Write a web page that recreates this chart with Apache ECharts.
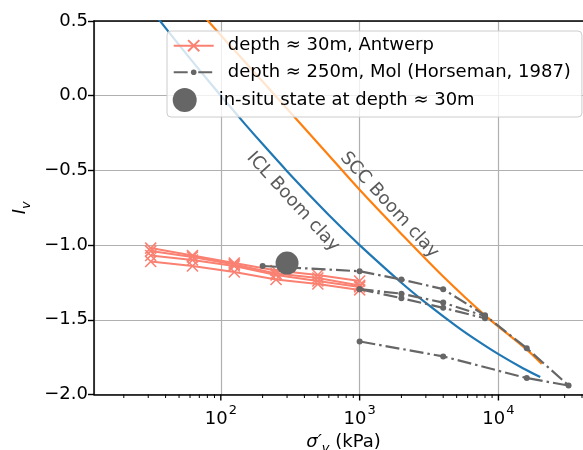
<!DOCTYPE html>
<html><head><meta charset="utf-8">
<script src="https://cdn.jsdelivr.net/npm/echarts@6/dist/echarts.min.js"></script>
<style>html,body{margin:0;padding:0;background:#fff}#c{width:583px;height:450px}</style>
</head><body><div id="c"></div>
<script>
// ---------- data ----------
const antwerpStress = [31.25, 62.5, 125, 250, 500, 1000];
const antwerpIv1 = [-1.02, -1.07, -1.12, -1.17, -1.20, -1.24];
const antwerpIv2 = [-1.04, -1.08, -1.13, -1.19, -1.22, -1.27];
const antwerpIv3 = [-1.07, -1.10, -1.14, -1.20, -1.24, -1.28];
const antwerpIv4 = [-1.11, -1.14, -1.18, -1.23, -1.26, -1.30];

const molStress1 = [200, 1000, 2000, 4000, 8000, 16000, 32000, 16000, 4000, 1000];
const molIv1 = [-1.14, -1.175, -1.23, -1.295, -1.47, -1.69, -1.94, -1.89, -1.745, -1.645];
const molStress2 = [1000, 2000, 4000, 8000];
const molIv2 = [-1.295, -1.325, -1.385, -1.475];
const molStress3 = [1000, 2000, 4000, 8000];
const molIv3 = [-1.295, -1.355, -1.42, -1.49];

const inSituStress = [300];
const inSituIv = [-1.12];

const iclStress = [30, 50, 70, 100, 150, 200, 300, 500, 700, 1000, 2000, 3000, 5000, 7000, 10000, 15000, 20000];
const iclIv = [0.60, 0.34, 0.173, 0.0, -0.192, -0.324, -0.505, -0.723, -0.861, -1.0, -1.252, -1.387, -1.544, -1.638, -1.73, -1.824, -1.883];
const sccStress = [60, 100, 200, 550, 1000, 2000, 4000, 8000, 16000, 20500];
const sccIv = [0.634, 0.405, 0.095, -0.36, -0.63, -0.925, -1.21, -1.47, -1.70, -1.795];

const iclLabelAt = [331, -0.711];
const sccLabelAt = [1633, -0.732];

const xMajorTicks = [100, 1000, 10000];
const xMinorTicks = [20, 30, 40, 50, 60, 70, 80, 90, 200, 300, 400, 500, 600, 700, 800, 900,
  2000, 3000, 4000, 5000, 6000, 7000, 8000, 9000, 20000, 30000, 40000];

const xMin = 12.2, xMax = 48000, yMin = -2.0, yMax = 0.5, yStep = 0.5;

const nameAntwerp = 'depth ≈ 30m, Antwerp';
const nameMol = 'depth ≈ 250m, Mol (Horseman, 1987)';
const nameInSitu = 'in-situ state at depth ≈ 30m';
// ---------------------------------------------------

const FONT = 'DejaVu Sans';
const SALMON = '#fa8072', GREY = '#666666', BLUE = '#1f77b4', ORANGE = '#ff7f0e';
const xPath = 'path://M0,0L10,10M0,10L10,0';
const zip = (a, b) => a.map((v, i) => [v, b[i]]);

const antwerpSeries = [antwerpIv1, antwerpIv2, antwerpIv3, antwerpIv4].map(iv => ({
  type: 'line', name: nameAntwerp, data: zip(antwerpStress, iv),
  symbol: xPath, symbolSize: 11, color: SALMON,
  lineStyle: { color: SALMON, width: 2 },
  itemStyle: { color: SALMON, borderColor: SALMON, borderWidth: 1.6 },
  z: 3
}));
const molSeries = [[molStress1, molIv1], [molStress2, molIv2], [molStress3, molIv3]].map(([s, iv]) => ({
  type: 'line', name: nameMol, data: zip(s, iv),
  symbol: 'circle', symbolSize: 6, color: GREY,
  lineStyle: { color: GREY, width: 2.2, type: [14, 4, 2.5, 4] },
  itemStyle: { color: GREY },
  z: 4
}));

function tickSeries(values, len, w) {
  return {
    type: 'custom', silent: true, clip: false, z: 6,
    data: values.map(v => [v, yMin]),
    renderItem: (params, api) => {
      const cs = params.coordSys;
      const px = api.coord([api.value(0), yMin])[0];
      const y0 = cs.y + cs.height;
      return { type: 'line', shape: { x1: px, y1: y0, x2: px, y2: y0 + len },
        style: { stroke: '#000', lineWidth: w } };
    }
  };
}

const labelTextStyle = { color: '#5a5a5a', fontSize: 18, fontFamily: FONT };

const option = {
  animation: false,
  backgroundColor: '#fff',
  grid: { left: 94, top: 21, width: 499, height: 373.5, containLabel: false, outerBoundsMode: 'none' },
  xAxis: [{
    type: 'log', logBase: 10, min: xMin, max: xMax,
    axisLine: { show: true, onZero: false, lineStyle: { color: '#000', width: 1.5 } },
    axisTick: { show: false },
    splitLine: { show: true, lineStyle: { color: '#b0b0b0', width: 1.2 } },
    axisLabel: {
      showMinLabel: false, showMaxLabel: false, margin: 10, color: '#000',
      formatter: v => {
        const l = Math.log10(v), e = Math.round(l);
        if (Math.abs(l - e) > 1e-6) return '';
        return '{b|10}{s|' + e + '}';
      },
      rich: {
        b: { fontSize: 18, fontFamily: FONT, color: '#000', lineHeight: 24, verticalAlign: 'bottom' },
        s: { fontSize: 13, fontFamily: FONT, color: '#000', lineHeight: 14, verticalAlign: 'top', padding: [0, 0, 0, 1] }
      }
    },
    name: '{i|σ′}{s|v}{n| (kPa)}', nameLocation: 'middle', nameGap: 36,
    nameTextStyle: {
      rich: {
        i: { fontSize: 18, fontFamily: FONT, fontStyle: 'italic', color: '#000', lineHeight: 22, verticalAlign: 'top' },
        s: { fontSize: 13, fontFamily: FONT, fontStyle: 'italic', color: '#000', lineHeight: 13, verticalAlign: 'bottom' },
        n: { fontSize: 18, fontFamily: FONT, color: '#000', lineHeight: 22, verticalAlign: 'top' }
      }
    }
  }, {
    type: 'log', logBase: 10, min: xMin, max: xMax, position: 'top',
    axisLine: { show: true, onZero: false, lineStyle: { color: '#000', width: 1.5 } },
    axisTick: { show: false }, axisLabel: { show: false }, splitLine: { show: false }
  }],
  yAxis: {
    type: 'value', min: yMin, max: yMax, interval: yStep,
    axisLine: { show: true, onZero: false, lineStyle: { color: '#000', width: 1.5 } },
    axisTick: { show: true, length: 6, lineStyle: { color: '#000', width: 1.4 } },
    splitLine: { show: true, lineStyle: { color: '#b0b0b0', width: 1.2 } },
    axisLabel: {
      margin: 6, fontSize: 18, fontFamily: FONT, color: '#000',
      formatter: v => (v < 0 ? '\u2212' : '') + Math.abs(v).toFixed(1)
    },
    name: '{i|I}{s|v}', nameLocation: 'middle', nameGap: 58, nameRotate: 90,
    nameTextStyle: {
      rich: {
        i: { fontSize: 18, fontFamily: FONT, fontStyle: 'italic', color: '#000', lineHeight: 22, verticalAlign: 'top' },
        s: { fontSize: 13, fontFamily: FONT, fontStyle: 'italic', color: '#000', lineHeight: 13, verticalAlign: 'bottom' }
      }
    }
  },
  legend: [{
    data: [nameAntwerp], orient: 'vertical', left: 167, top: 31,
    padding: [4.7, 148, 61.3, 5.7], itemWidth: 40, itemHeight: 14,
    backgroundColor: 'rgba(255,255,255,0.8)', borderColor: '#cccccc', borderWidth: 1, borderRadius: 4,
    selectedMode: false, z: 8,
    textStyle: { fontSize: 18, fontFamily: FONT, color: '#000', lineHeight: 20, padding: [0, 0, 0, 9] }
  }, {
    data: [nameMol], orient: 'vertical', left: 172.7, top: 62.3, padding: 0,
    itemWidth: 40, itemHeight: 7, selectedMode: false, z: 9,
    textStyle: { fontSize: 18, fontFamily: FONT, color: '#000', lineHeight: 20, padding: [0, 0, 0, 9] }
  }, {
    data: [nameInSitu], orient: 'vertical', left: 172.7, top: 88, padding: 0,
    itemWidth: 40, itemHeight: 24, selectedMode: false, z: 9,
    textStyle: { fontSize: 18, fontFamily: FONT, color: '#000', lineHeight: 20, padding: [0, 0, 0, 9] }
  }],
  series: [
    {
      type: 'line', name: 'ICL', data: zip(iclStress, iclIv), showSymbol: false, symbol: 'none',
      smooth: 0.3, lineStyle: { color: BLUE, width: 2.2 }, color: BLUE, z: 2,
      markPoint: {
        silent: true, symbol: 'circle', symbolSize: 0,
        label: Object.assign({ show: true, position: 'inside', rotate: -47.5, formatter: 'ICL Boom clay' }, labelTextStyle),
        data: [{ coord: iclLabelAt }]
      }
    },
    {
      type: 'line', name: 'SCC', data: zip(sccStress, sccIv), showSymbol: false, symbol: 'none',
      smooth: 0.3, lineStyle: { color: ORANGE, width: 2.2 }, color: ORANGE, z: 2,
      markPoint: {
        silent: true, symbol: 'circle', symbolSize: 0,
        label: Object.assign({ show: true, position: 'inside', rotate: -47.5, formatter: 'SCC Boom clay' }, labelTextStyle),
        data: [{ coord: sccLabelAt }]
      }
    },
    ...antwerpSeries,
    ...molSeries,
    {
      type: 'scatter', name: nameInSitu, data: zip(inSituStress, inSituIv),
      symbol: 'circle', symbolSize: 23, itemStyle: { color: GREY, opacity: 1 }, z: 5
    },
    tickSeries(xMajorTicks, 6, 1.4),
    tickSeries(xMinorTicks, 3.5, 1.0)
  ]
};

const chart = echarts.init(document.getElementById('c'), null, { renderer: 'canvas' });
chart.setOption(option);
</script>
</body></html>
